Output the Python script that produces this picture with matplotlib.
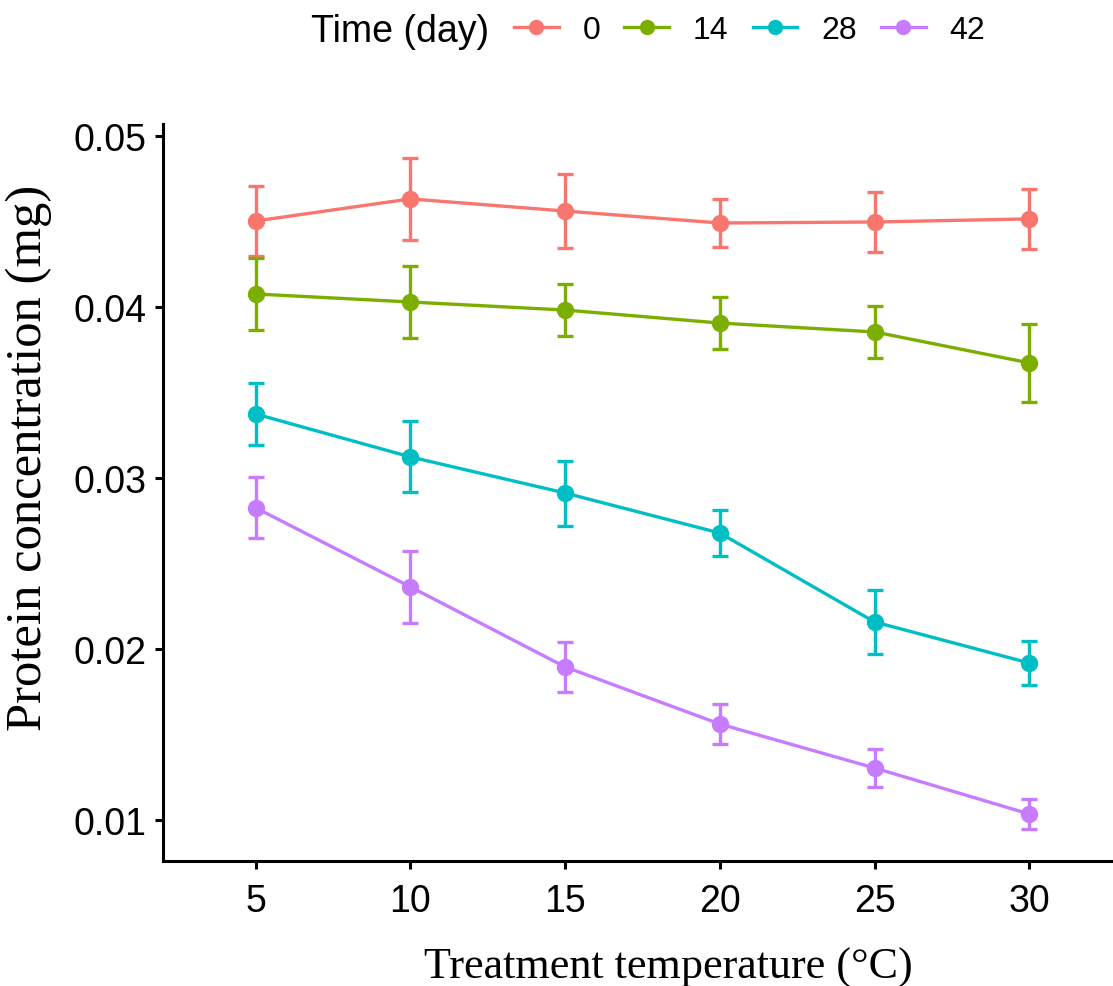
import matplotlib
matplotlib.use("Agg")
import matplotlib.pyplot as plt
from matplotlib.lines import Line2D

temps = [5, 10, 15, 20, 25, 30]
days = ["0", "14", "28", "42"]
colors = ["#F8766D", "#7CAE00", "#00BFC4", "#C77CFF"]

mean_d0 = [0.04503, 0.04632, 0.04561, 0.04491, 0.04497, 0.04515]
err_d0 = [0.00205, 0.00240, 0.00218, 0.00138, 0.00175, 0.00175]
mean_d14 = [0.04076, 0.04029, 0.03982, 0.03906, 0.03854, 0.03673]
err_d14 = [0.00213, 0.00210, 0.00150, 0.00152, 0.00150, 0.00228]
mean_d28 = [0.03374, 0.03123, 0.02912, 0.02678, 0.02158, 0.01918]
err_d28 = [0.00184, 0.00208, 0.00190, 0.00135, 0.00187, 0.00129]
mean_d42 = [0.02825, 0.02363, 0.01895, 0.01561, 0.01304, 0.01035]
err_d42 = [0.00178, 0.00210, 0.00146, 0.00117, 0.00111, 0.00085]

means = [mean_d0, mean_d14, mean_d28, mean_d42]
errs = [err_d0, err_d14, err_d28, err_d42]

W, H = 1113, 987
fig = plt.figure(figsize=(W / 100, H / 100), dpi=100)
ax = fig.add_axes([163 / W, 1 - 862 / H, (1122 - 163) / W, (862 - 125) / H])

pos = list(range(1, len(temps) + 1))
for m, e, c in zip(means, errs, colors):
    ax.errorbar(pos, m, yerr=e, color=c, lw=2.4, elinewidth=2.4, capsize=5.5,
                capthick=2.4, marker="o", markersize=11.5, zorder=3)

ax.set_xlim(0.4, 6.6)
ax.set_ylim(0.0076, 0.0507)
ax.set_xticks(pos)
ax.set_xticklabels([str(t) for t in temps])
ax.set_yticks([0.01, 0.02, 0.03, 0.04, 0.05])
ax.set_yticklabels(["0.01", "0.02", "0.03", "0.04", "0.05"])
for s in ["top", "right"]:
    ax.spines[s].set_visible(False)
for s in ["left", "bottom"]:
    ax.spines[s].set_linewidth(2.2)
ax.tick_params(axis="both", length=6, width=2.2, direction="out",
               labelsize=27)
ax.tick_params(axis="y", pad=6)
ax.tick_params(axis="x", pad=10)
for lab in ax.get_xticklabels() + ax.get_yticklabels():
    lab.set_fontfamily("Liberation Sans")

fig.text(668.5 / W, 1 - 979 / H, "Treatment temperature (°C)",
         fontfamily="Liberation Serif", fontsize=31.8, ha="center",
         va="baseline")
fig.text(29 / W, 1 - 458 / H, "Protein concentration (mg)",
         fontfamily="Liberation Serif", fontsize=36.5, ha="center",
         va="center", rotation=90)

fig.text(311 / W, 1 - 32 / H, "Time (day)", fontfamily="Liberation Sans",
         fontsize=27, ha="left", va="center")
handles = [Line2D([0], [0], color=c, lw=2.4, marker="o", markersize=10)
           for c in colors]
leg = fig.legend(handles, days, loc="center left",
                 bbox_to_anchor=(514 / W, 1 - 31 / H), ncol=4, frameon=False,
                 prop={"family": "Liberation Sans", "size": 23},
                 handlelength=1.4, handletextpad=0.75, columnspacing=0.75,
                 borderaxespad=0, borderpad=0)

fig.savefig("out.png", dpi=100)
